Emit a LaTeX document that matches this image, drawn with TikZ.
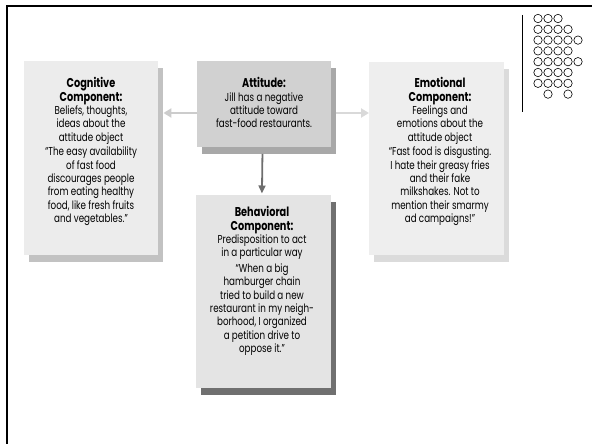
\documentclass[tikz,border=0pt]{standalone}
\usepackage{fontspec}
\setmainfont{Poppins}[FakeStretch=0.76]
\usetikzlibrary{arrows.meta,shadows}
\definecolor{cogfill}{gray}{0.925}
\definecolor{cogsh}{gray}{0.76}
\definecolor{attfill}{gray}{0.82}
\definecolor{attsh}{gray}{0.66}
\definecolor{emofill}{gray}{0.935}
\definecolor{emosh}{gray}{0.86}
\definecolor{behfill}{gray}{0.895}
\definecolor{behsh}{gray}{0.44}
\definecolor{arrlight}{gray}{0.80}
\definecolor{arrlight2}{gray}{0.85}
\definecolor{arrdark}{gray}{0.43}
\newcommand\myttl[1]{{\fontsize{12.8}{13.3}\selectfont\bfseries #1}}
\begin{document}
\begin{tikzpicture}[x=1pt,y=-1pt,
  box/.style={draw=none,inner sep=0pt,anchor=north west},
  sh/.style={drop shadow={shadow xshift=5pt,shadow yshift=-6.5pt,fill=#1,opacity=1}},
  txt/.style={inner sep=0pt,anchor=north,align=center,font=\fontsize{11.5}{13.3}\selectfont},
  thickarrow/.style={line width=2.6pt,-{Triangle[length=8pt,width=9pt]}},
  downarrow/.style={line width=1.8pt,-{Triangle[length=8pt,width=7pt]}},
  dot/.style={draw,line width=0.6pt,circle,minimum size=8.4pt,inner sep=0pt}]
\useasboundingbox (0,0) rectangle (592,444);
% frame
\draw[line width=2.6pt] (592,6) -- (7,6) -- (7,444);
% boxes
\node[box,sh=cogsh,fill=cogfill,minimum width=134.5pt,minimum height=194pt] (cog) at (23.5,61) {};
\node[box,sh=attsh,fill=attfill,minimum width=133.5pt,minimum height=86pt] (att) at (197,61) {};
\node[box,sh=emosh,fill=emofill,minimum width=135pt,minimum height=193pt] (emo) at (369,62) {};
\node[box,sh=behsh,fill=behfill,minimum width=134.5pt,minimum height=193pt] (beh) at (196,195) {};
% texts
\node[txt] (cogt) at (91,77.5) {\myttl{Cognitive}\\\myttl{Component:}\\Beliefs, thoughts,\\ideas about the\\attitude object\\[1.5pt]
“The easy availability\\of fast food\\discourages people\\from eating healthy\\food, like fresh fruits\\and vegetables.”};
\node[txt] (attt) at (264,77.5) {\myttl{Attitude:}\\Jill has a negative\\attitude toward\\fast-food restaurants.};
\node[txt] (emot) at (440,77.5) {\myttl{Emotional}\\\myttl{Component:}\\Feelings and\\emotions about the\\attitude object\\[1.5pt]
“Fast food is disgusting.\\I hate their greasy fries\\and their fake\\milkshakes. Not to\\mention their smarmy\\ad campaigns!”};
\node[txt] (beht) at (262,206.5) {\myttl{Behavioral}\\\myttl{Component:}\\Predisposition to act\\in a particular way\\[2.5pt]
“When a big\\hamburger chain\\tried to build a new\\restaurant in my neigh-\\borhood, I organized\\a petition drive to\\oppose it.”};
% arrows
\coordinate (ly) at (0,113);
\draw[thickarrow,arrlight] (att.west |- ly) -- ([xshift=5pt]cog.east |- ly);
\draw[thickarrow,arrlight2] ([xshift=5pt]att.east |- ly) -- (emo.west |- ly);
\draw[downarrow,arrdark] ([xshift=-1.5pt,yshift=-6.5pt]att.south) -- ([xshift=-1.5pt,yshift=1.5pt]beh.north);
% decoration
\draw[line width=0.9pt] (522,15) -- (522,112);
\foreach \r/\cols in {0/{0,1,2},1/{0,1,2,3},2/{0,1,2,3,4},3/{0,1,2,3},4/{0,1,2,3,4},5/{0,1,2,3},6/{0,1,2,3},7/{1,3}}{
  \foreach \c in \cols {
    \node[dot] (d-\r-\c) at ({538+10*\c},{18.5+10.8*\r}) {};
  }
}
\end{tikzpicture}
\end{document}
